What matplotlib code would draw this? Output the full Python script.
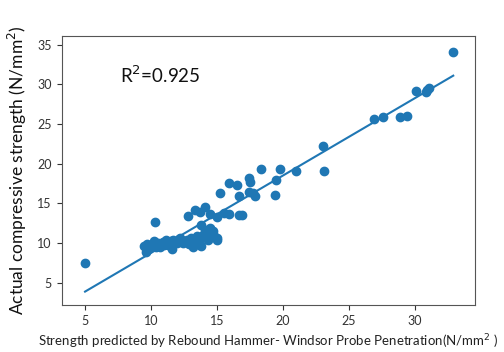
import matplotlib
matplotlib.use("Agg")
import matplotlib.pyplot as plt
import numpy as np

plt.rcParams['font.family'] = ['Lato', 'DejaVu Sans']

predicted = [5.0, 32.9, 30.1, 30.8, 30.9, 31.1, 26.9, 27.6, 28.9, 29.4,
             23.0, 23.1, 21.0, 19.8, 19.5, 19.4, 18.3, 17.4, 17.5, 16.5,
             15.9, 15.2, 16.7, 17.4, 17.7, 17.9, 16.7, 16.9, 15.9, 15.5,
             15.0, 14.5, 14.1, 13.3, 13.7, 12.8, 10.3,
             9.5, 9.6, 9.8, 10.2, 10.4, 10.7, 11.1, 11.3, 11.6, 11.7,
             12.1, 12.4, 12.7, 13.0, 13.2, 13.3, 13.6, 13.8, 14.0, 14.2,
             14.5, 14.3, 15.0, 15.0, 9.7, 10.0, 10.9, 11.5, 12.0, 12.5,
             13.5, 13.9, 14.1, 14.4, 14.7, 10.5, 11.0, 12.2, 13.1, 14.8,
             13.8, 12.9]
actual = [7.5, 34.1, 29.2, 29.1, 29.3, 29.6, 25.6, 25.9, 25.9, 26.0,
          22.3, 19.1, 19.1, 19.3, 18.0, 16.1, 19.3, 18.2, 17.7, 17.3,
          17.6, 16.3, 15.9, 16.5, 16.3, 15.9, 13.5, 13.5, 13.7, 13.8,
          13.3, 13.7, 14.5, 14.2, 13.9, 13.4, 12.6,
          9.6, 8.9, 9.2, 10.2, 9.5, 9.5, 10.4, 9.8, 9.2, 10.4,
          10.5, 10.0, 10.4, 10.6, 9.5, 10.5, 10.0, 9.6, 10.8, 11.4,
          11.9, 10.4, 10.7, 10.4, 9.9, 9.7, 10.1, 10.2, 10.0, 10.3,
          10.9, 11.0, 11.7, 11.2, 11.5, 10.0, 9.8, 10.6, 10.1, 10.9,
          12.3, 9.9]

fit_slope = 0.976
fit_intercept = -1.0
r2_text = "R$^2$=0.925"

fig = plt.figure(figsize=(5.04, 3.52), dpi=100)
ax = fig.add_axes([0.1224, 0.1335, 0.8201, 0.7651])

ax.scatter(predicted, actual, s=36, color='#1f77b4', zorder=2)
xs = np.array([min(predicted), max(predicted)])
ax.plot(xs, fit_slope * xs + fit_intercept, color='#1f77b4', lw=1.5, zorder=2)

ax.set_xlim(3.23, 34.55)
ax.set_ylim(2.19, 36.15)
ax.set_xticks([5, 10, 15, 20, 25, 30])
ax.set_yticks([5, 10, 15, 20, 25, 30, 35])
ax.tick_params(labelsize=9, colors='#333333', length=3.5)
for sp in ax.spines.values():
    sp.set_color('#555555')

ax.text(0.141, 0.824, r2_text, transform=ax.transAxes, fontsize=13.5,
        color='#111111', va='baseline', ha='left')

ax.set_xlabel("Strength predicted by Rebound Hammer- Windsor Probe Penetration(N/mm$^2$ )",
              fontsize=9.5, color='#222222', labelpad=4)
ax.set_ylabel("Actual compressive strength (N/mm$^2$)", fontsize=12.5,
              color='#111111', labelpad=6)

fig.savefig("out.png", dpi=100)
